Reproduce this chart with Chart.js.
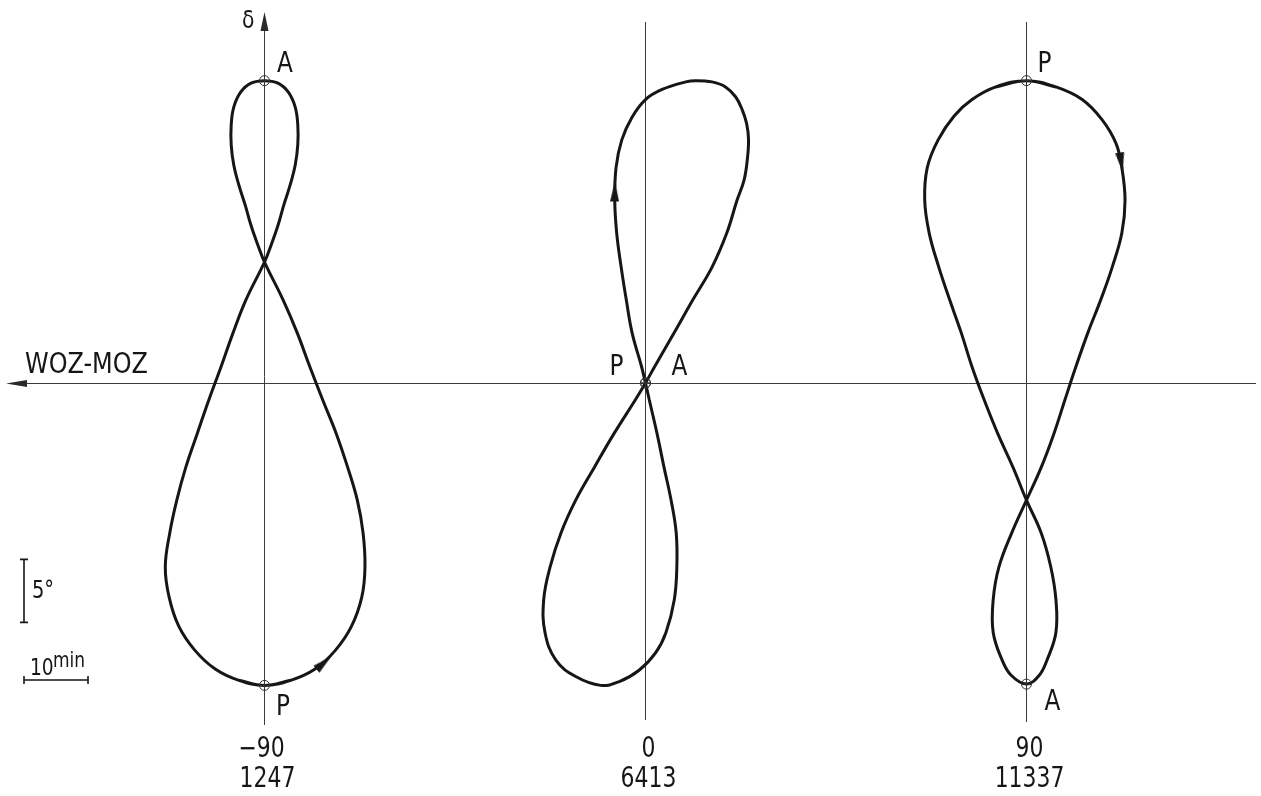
<!DOCTYPE html>
<html lang="de">
<head>
  <meta charset="UTF-8">
  <title>Analemma</title>
  <style>
    html, body { margin: 0; padding: 0; background: #fff; overflow: hidden; }
    #wrap { width: 1261px; height: 796px; }
  </style>
  <script src="https://cdn.jsdelivr.net/npm/chart.js"></script>
</head>
<body>
  <div id="wrap"><canvas id="chart"></canvas></div>

  <script>
    // Perihellänge (Mitte jeder Kurve) und Jahreszahl darunter
    const longitudes = [-90, 0, 90];
    const years = ['1247', '6413', '11337'];
    const lonLabels = ['\u221290', '0', '90'];

    // WOZ-MOZ in min (positiv nach links), Deklination in Grad
    const eotLeft = [0, -4.1, -7.9, -11.1, -13.6, -15.2, -15.7, -15.4, -14.5, -13.0,
      -11.2, -9.1, -7.1, -5.1, -2.9, 0, 1.0, 2.1, 3.0, 4.0,
      4.8, 5.2, 5.2, 4.8, 3.7, 2.1, 0, -2.1, -3.7, -4.8,
      -5.2, -5.2, -4.8, -4.0, -3.0, -2.1, -1.0, 0, 2.9, 4.9,
      6.8, 8.7, 10.5, 12.3, 13.7, 14.8, 15.5, 14.9, 13.4, 10.9,
      7.7, 4.0, 0];
    const decLeft = [-24.0, -23.6, -22.7, -21.2, -19.3, -17.0, -14.6, -11.9, -9.3, -6.7,
      -4.0, -1.35, 1.27, 4.0, 6.6, 9.6, 10.9, 12.5, 14.1, 15.7,
      17.3, 18.9, 20.5, 21.9, 23.1, 23.8, 24.0, 23.8, 23.1, 21.9,
      20.5, 18.9, 17.3, 15.7, 14.1, 12.5, 10.9, 9.6, 6.6, 4.0,
      1.27, -1.35, -4.0, -6.7, -9.3, -11.9, -14.6, -17.0, -19.3, -21.2,
      -22.7, -23.6, -24.0];

    const eotMid = [0, 0.6, 2.1, 3.0, 3.8, 4.5, 4.8, 4.6, 3.7, 2.1,
      0, -2.6, -6.3, -7.8, -10.4, -12.5, -14.1, -15.1, -15.8, -16.1,
      -15.9, -15.4, -14.3, -12.7, -10.4, -7.4, -4.5, -1.4, 0,
      1.6, 4.9, 8.0, 10.9, 13.2, 14.9, 15.9, 15.7, 14.0, 10.9,
      7.0, 4.1, 1.0, -1.6, -3.2, -4.5, -4.9, -4.8, -4.0, -2.9,
      -1.8, -0.6, 0];
    const decMid = [0, 1.27, 4.0, 6.6, 9.2, 11.9, 14.5, 17.1, 19.3, 21.1,
      22.5, 23.3, 23.9, 24.0, 23.9, 23.5, 22.7, 21.7, 20.6, 19.3,
      17.7, 16.1, 14.5, 11.9, 9.2, 6.6, 4.0, 1.27, 0,
      -1.35, -4.0, -6.7, -9.3, -11.9, -14.6, -17.2, -19.8, -22.0, -23.3,
      -24.0, -23.7, -22.8, -21.4, -19.8, -17.2, -14.6, -11.9, -9.3, -6.7,
      -4.0, -1.35, 0];

    const eotRight = [0, -4.6, -8.7, -11.8, -14.0, -14.9, -15.4, -14.9, -13.4, -11.6,
      -9.6, -7.7, -6.0, -4.3, -2.3, 0, 2.3, 4.3, 5.2, 5.2,
      3.8, 2.4, 0, -2.0, -3.2, -4.6, -4.6, -3.8, -2.3, 0,
      2.1, 4.5, 6.6, 8.5, 10.2, 12.0, 13.7, 15.2, 15.9, 15.5,
      13.8, 11.3, 8.5, 4.8, 0];
    const decRight = [24.0, 23.5, 22.5, 20.9, 19.0, 17.1, 14.5, 11.9, 9.2, 6.6,
      4.0, 1.27, -1.35, -4.0, -6.7, -9.3, -11.9, -14.6, -17.2, -19.8,
      -22.0, -23.2, -23.9, -23.2, -22.0, -19.8, -17.2, -14.6, -11.9, -9.3,
      -6.7, -4.0, -1.35, 1.27, 4.0, 6.6, 9.2, 11.9, 14.5, 17.1,
      19.3, 21.2, 22.5, 23.5, 24.0];

    // Perihel / Aphel auf jeder Kurve
    const markCurve = [0, 0, 1, 1, 2, 2];
    const markName = ['P', 'A', 'P', 'A', 'P', 'A'];
    const markDec = [-24.0, 24.0, 0, 0, 24.0, -23.9];

    // Laufrichtungspfeile
    const arrowCurve = [0, 1, 2];
    const arrowEot = [-9.3, 4.8, -14.8];
    const arrowDec = [-22.2, 15.2, 17.5];
    const arrowAngle = [49, 1, 171];

    // Achsen: 1 min = 6.4 px, 1 Grad = 12.6 px
    const MIN_UNIT = 1.512;
    const X_MIN = -152.48, X_MAX = 145.40;
    const Y_MIN = -32.78, Y_MAX = 30.40;

    const FONT = "'DejaVu Sans Condensed', 'DejaVu Sans', sans-serif";
    const INK = '#161616';

    function curvePoints(lon, eot, dec) {
      const pts = eot.map((e, i) => ({ x: lon - e * MIN_UNIT, y: dec[i] }));
      // geschlossene Schleife: je einen Punkt überlappen lassen
      return [pts[pts.length - 2], ...pts, pts[1]];
    }

    // schmal gestellte Schrift (Normschrift)
    function text(ctx, str, x, y, size, sx) {
      ctx.save();
      ctx.font = size + 'px ' + FONT;
      ctx.translate(x, y);
      ctx.scale(sx, 1);
      ctx.fillText(str, 0, 0);
      ctx.restore();
    }

    const arrowImg = document.createElement('canvas');
    arrowImg.width = 9;
    arrowImg.height = 20;
    (function () {
      const c = arrowImg.getContext('2d');
      c.fillStyle = INK;
      c.beginPath();
      c.moveTo(4.5, 0);
      c.lineTo(9, 20);
      c.lineTo(0, 20);
      c.closePath();
      c.fill();
    })();

    const curves = [[eotLeft, decLeft], [eotMid, decMid], [eotRight, decRight]];

    const datasets = curves.map((c, i) => ({
      data: curvePoints(longitudes[i], c[0], c[1]),
      showLine: true,
      borderColor: INK,
      borderWidth: 3,
      tension: 0.4,
      pointRadius: 0,
      fill: false,
      order: 3
    }));

    const markData = markDec.map((d, i) => ({ x: longitudes[markCurve[i]], y: d }));
    datasets.push({
      data: markData,
      showLine: false,
      pointStyle: 'circle',
      pointRadius: 5,
      pointBorderWidth: 1,
      pointBorderColor: '#333',
      pointBackgroundColor: 'rgba(0,0,0,0)',
      order: 1
    });
    datasets.push({
      data: markData,
      showLine: false,
      pointStyle: 'cross',
      pointRadius: 5,
      pointBorderWidth: 1,
      pointBorderColor: '#333',
      order: 1
    });
    datasets.push({
      data: arrowEot.map((e, i) => ({ x: longitudes[arrowCurve[i]] - e * MIN_UNIT, y: arrowDec[i] })),
      showLine: false,
      pointStyle: arrowImg,
      pointRotation: arrowAngle,
      pointRadius: 10,
      order: 0
    });

    const decor = {
      id: 'decor',
      beforeDatasetsDraw(chart) {
        const { ctx, scales: { x, y } } = chart;
        const y0 = Math.floor(y.getPixelForValue(0)) + 0.5;
        ctx.save();
        ctx.strokeStyle = '#3c3c3c';
        ctx.fillStyle = '#2a2a2a';
        ctx.lineWidth = 1;

        // WOZ-MOZ Achse, Pfeil nach links
        ctx.beginPath();
        ctx.moveTo(24, y0);
        ctx.lineTo(1256, y0);
        ctx.stroke();
        ctx.beginPath();
        ctx.moveTo(6, y0);
        ctx.lineTo(27, y0 - 3.5);
        ctx.lineTo(27, y0 + 3.5);
        ctx.closePath();
        ctx.fill();

        const tops = [28, 22, 22];
        const bottoms = [725, 720, 722];
        longitudes.forEach((lon, i) => {
          const px = Math.floor(x.getPixelForValue(lon)) + 0.5;
          ctx.beginPath();
          ctx.moveTo(px, tops[i]);
          ctx.lineTo(px, bottoms[i]);
          ctx.stroke();
          if (i === 0) {
            ctx.beginPath();
            ctx.moveTo(px, 12);
            ctx.lineTo(px + 4, 31);
            ctx.lineTo(px - 4, 31);
            ctx.closePath();
            ctx.fill();
          }
        });
        ctx.restore();
      },
      afterDatasetsDraw(chart) {
        const { ctx, scales: { x, y } } = chart;
        ctx.save();
        ctx.fillStyle = INK;
        ctx.textBaseline = 'alphabetic';

        // Beschriftung unten
        ctx.textAlign = 'center';
        longitudes.forEach((lon, i) => {
          const px = x.getPixelForValue(lon) + 3;
          text(ctx, lonLabels[i], i === 0 ? px - 6 : px, 757, 28, 0.87);
          text(ctx, years[i], px, 787, 28, 0.87);
        });

        // P / A
        const offs = [[11.5, 30], [12.5, -8.6], [-36, -8], [26, -8], [11, -8.6], [18, 26]];
        ctx.textAlign = 'left';
        markData.forEach((p, i) => {
          const px = x.getPixelForValue(p.x);
          const py = y.getPixelForValue(p.y);
          text(ctx, markName[i], px + offs[i][0], py + offs[i][1], 28, 0.92);
        });

        text(ctx, 'WOZ-MOZ', 25, 373, 28, 0.95);
        text(ctx, '\u03b4', 242, 28, 25, 0.9);

        // Massstäbe
        ctx.strokeStyle = INK;
        ctx.lineWidth = 1.6;
        const yA = y.getPixelForValue(-14);
        const yB = y.getPixelForValue(-19);
        ctx.beginPath();
        ctx.moveTo(24, yA); ctx.lineTo(24, yB);
        ctx.moveTo(20, yA); ctx.lineTo(28, yA);
        ctx.moveTo(20, yB); ctx.lineTo(28, yB);
        const xA = 24;
        const xB = xA + x.getPixelForValue(10 * MIN_UNIT) - x.getPixelForValue(0);
        ctx.moveTo(xA, 680); ctx.lineTo(xB, 680);
        ctx.moveTo(xA, 676); ctx.lineTo(xA, 684);
        ctx.moveTo(xB, 676); ctx.lineTo(xB, 684);
        ctx.stroke();

        text(ctx, '5\u00b0', 32, 598, 24, 0.9);
        text(ctx, '10', 30, 675, 23, 0.9);
        text(ctx, 'min', 53, 667, 21, 0.9);
        ctx.restore();
      }
    };

    new Chart(document.getElementById('chart'), {
      type: 'scatter',
      data: { datasets: datasets },
      options: {
        responsive: true,
        maintainAspectRatio: false,
        animation: false,
        events: [],
        layout: { padding: 0, autoPadding: false },
        plugins: {
          legend: { display: false },
          tooltip: { enabled: false }
        },
        scales: {
          x: { type: 'linear', display: false, min: X_MIN, max: X_MAX },
          y: { type: 'linear', display: false, min: Y_MIN, max: Y_MAX }
        }
      },
      plugins: [decor]
    });
  </script>
</body>
</html>
